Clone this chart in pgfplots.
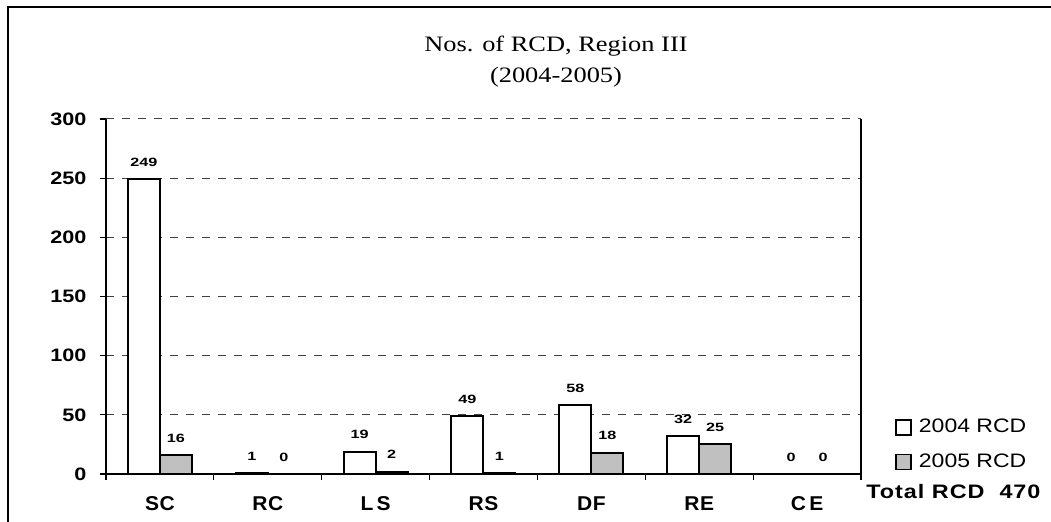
\documentclass[border=0pt]{standalone}
\usepackage{pgfplots}
\pgfplotsset{compat=1.18}
\usepackage{fontspec}
\setmainfont{Liberation Serif}
\newfontfamily\tickfont[FakeStretch=1.2]{Liberation Sans}
\newfontfamily\xfont[FakeStretch=1.05, LetterSpace=3]{Liberation Sans}
\newfontfamily\barfont[FakeStretch=1.35]{Liberation Sans}
\newfontfamily\legfont[FakeStretch=1.18]{Liberation Sans}
\newfontfamily\totalfont[FakeStretch=1.2, LetterSpace=5]{Liberation Sans}
\definecolor{bargray}{RGB}{192,192,192}
\begin{document}
\begin{tikzpicture}
\useasboundingbox (0,0) rectangle (525.5pt,-261pt);
\draw[line width=0.8pt] (4pt,-270pt) -- (4pt,-3.5pt) -- (540pt,-3.5pt);
\node[align=center, font=\fontsize{11}{15.5}\selectfont] at (278pt,-31pt) {\scalebox{1.2}[1]{Nos. of RCD, Region III}\\\scalebox{1.2}[1]{(2004-2005)}};
\begin{axis}[
  at={(53pt,-237pt)}, anchor=south west,
  scale only axis, width=377.5pt, height=177.5pt,
  xmin=-0.5, xmax=6.5, ymin=0, ymax=300,
  axis x line=bottom, axis y line=box,
  axis line style={-, line width=0.7pt, black},
  ytick={0,50,...,300}, ytick pos=left,
  tick align=outside, major tick length=3pt,
  tick style={line width=0.6pt, black},
  xtick={-0.5,0.5,1.5,2.5,3.5,4.5,5.5,6.5}, xticklabels={},
  extra x ticks={0,1,2,3,4,5,6},
  extra x tick labels={SC,RC,L\,S,RS,DF,RE,C\,E},
  extra x tick style={major tick length=0pt, grid=none,
    xticklabel style={yshift=-7.8pt, font=\xfont\bfseries\fontsize{10}{12}\selectfont}},
  ymajorgrids,
  grid style={dash pattern=on 4pt off 4pt, line width=0.5pt, black!75},
  /pgf/number format/assume math mode=true,
  ticklabel style={font=\tickfont\bfseries\fontsize{9}{11}\selectfont},
  yticklabel style={xshift=-3.3pt},
  ybar=0pt, bar width=16pt,
  nodes near coords,
  every node near coord/.append style={font=\barfont\bfseries\fontsize{6}{7}\selectfont, yshift=2.5pt},
  legend style={draw=none, fill=none, at={(1.037,0.083)}, anchor=west,
    font=\legfont\fontsize{9.75}{11}\selectfont, row sep=5pt, column sep=1.5pt,
    legend cell align=left},
]
\addplot[draw=black, fill=white, line width=1pt,
  legend image code/.code={\draw[draw=black, fill=white, line width=0.8pt] (0pt,-3.75pt) rectangle (7.5pt,3.75pt);}]
  coordinates {(0,249) (1,1) (2,19) (3,49) (4,58) (5,32) (6,0)};
\addplot[draw=black, fill=bargray, line width=1pt,
  legend image code/.code={\draw[draw=black, fill=bargray, line width=0.8pt] (0pt,-3.75pt) rectangle (7.5pt,3.75pt);}]
  coordinates {(0,16) (1,0) (2,2) (3,1) (4,18) (5,25) (6,0)};
\legend{2004 RCD, 2005 RCD}
\end{axis}
\node[anchor=base west, inner sep=0pt, font=\totalfont\bfseries\fontsize{9.75}{11}\selectfont] at (433pt,-249.5pt) {Total RCD\ \ 470};
\end{tikzpicture}
\end{document}
